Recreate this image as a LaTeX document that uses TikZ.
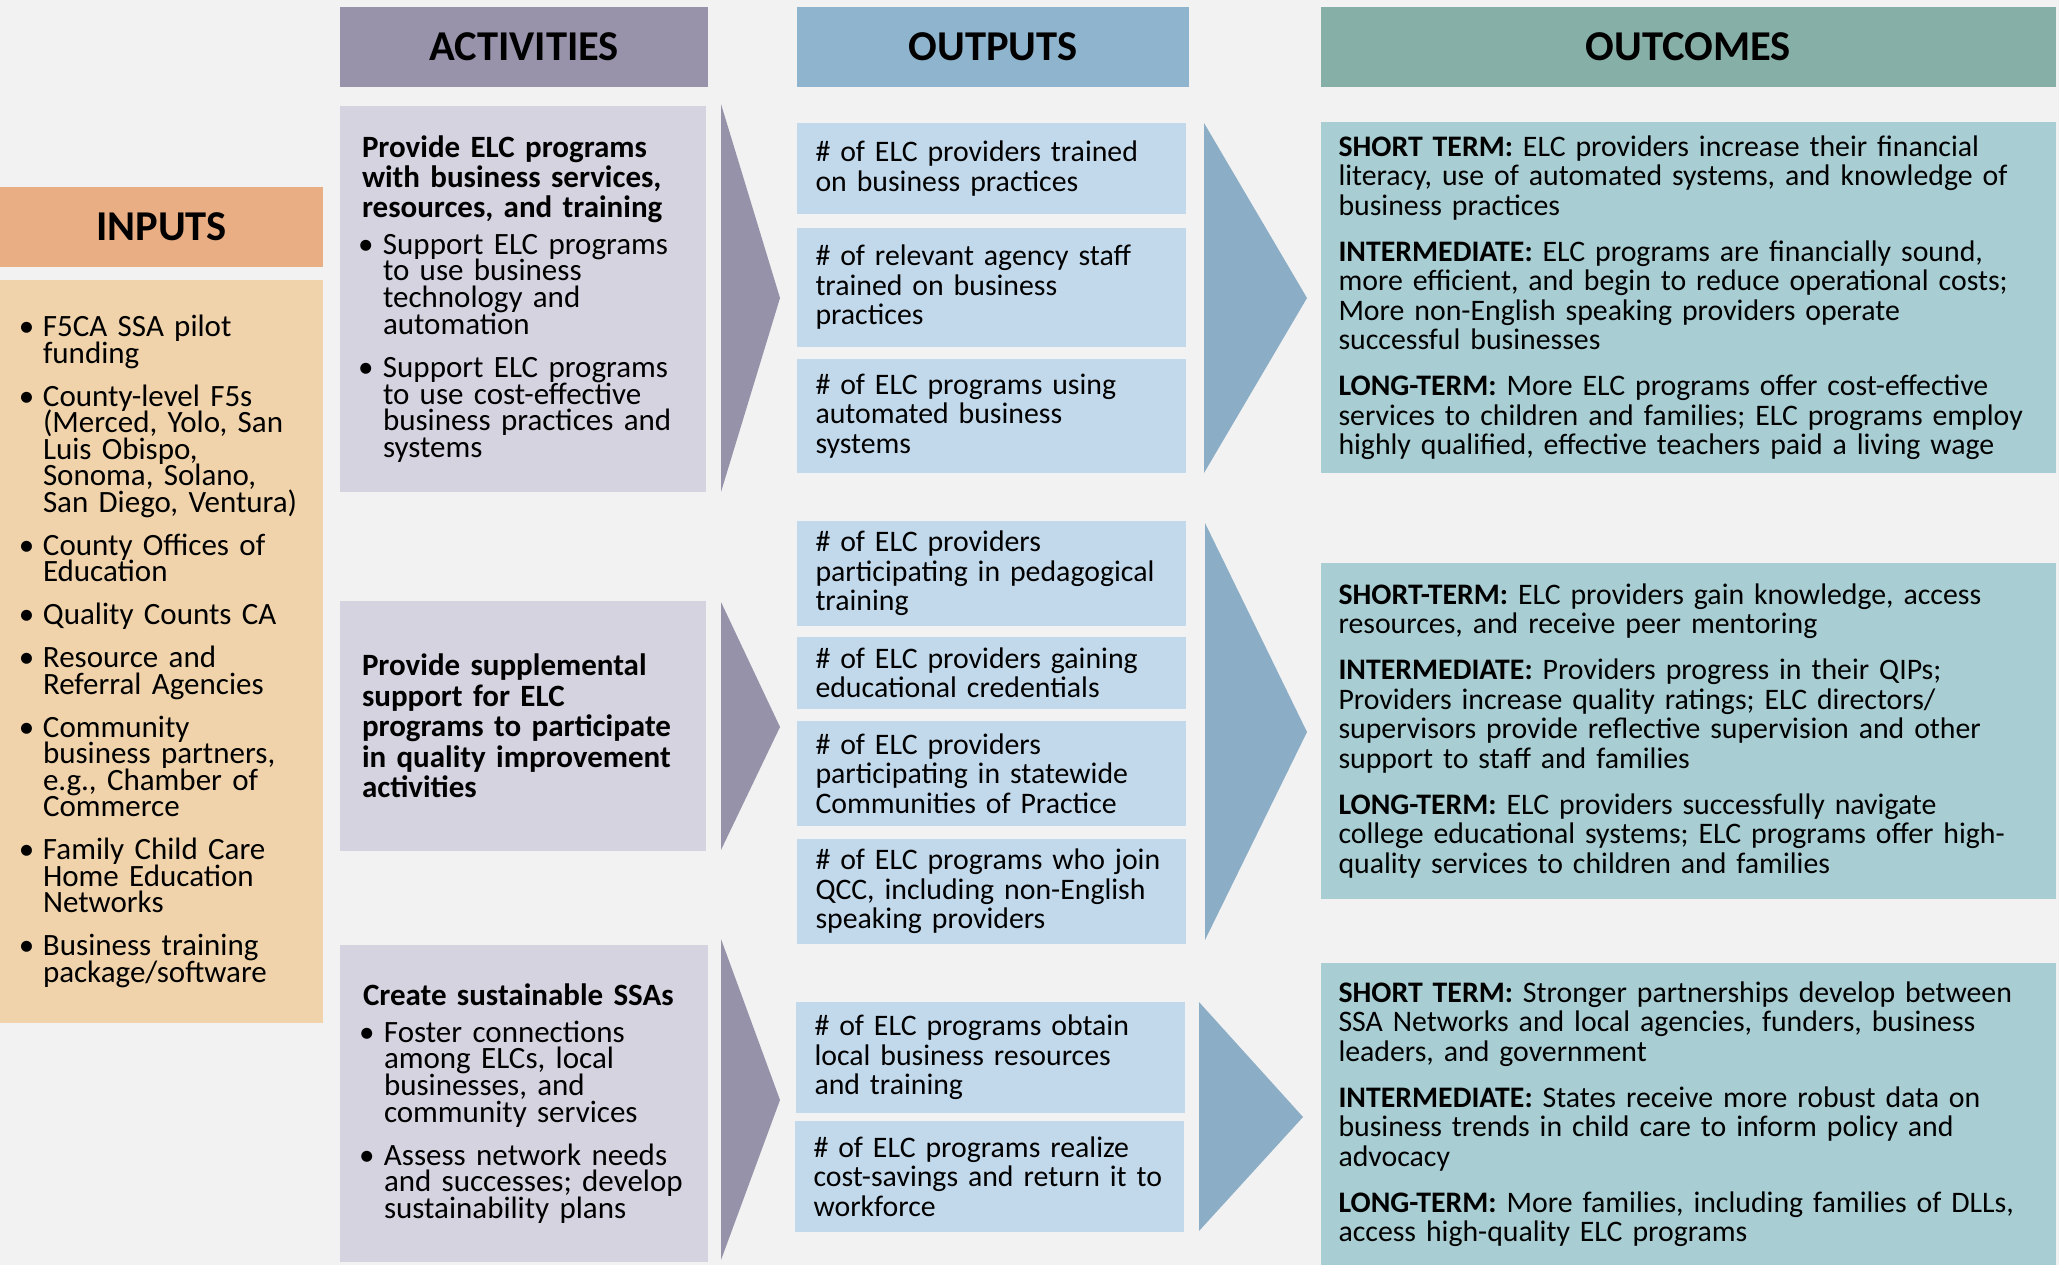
\documentclass[tikz,border=0pt]{standalone}
\usepackage{fontspec}
\setmainfont{Carlito}
\usepackage{tikz}

\definecolor{bgcol}{HTML}{F2F2F2}
\definecolor{inhead}{HTML}{E9AE83}
\definecolor{inbody}{HTML}{F0D3AA}
\definecolor{acthead}{HTML}{9893AA}
\definecolor{actbody}{HTML}{D5D3E0}
\definecolor{actarr}{HTML}{9692A9}
\definecolor{outhead}{HTML}{8FB4CD}
\definecolor{outbody}{HTML}{C2D9EB}
\definecolor{outarr}{HTML}{8BADC5}
\definecolor{ochead}{HTML}{86AFA7}
\definecolor{ocbody}{HTML}{A8CDD2}

\newcommand{\bitem}[2][-3pt]{{\let\\\newline\hangindent=21pt\hangafter=1\noindent\hbox to 21pt{\hspace*{#1}\textbullet\hfil}#2\par}}
\newcommand{\acttitle}[1]{{\bfseries\fontsize{31}{30}\selectfont#1\par}\vspace{-6pt}}

\begin{document}
\hyphenpenalty=10000
\exhyphenpenalty=10000
\begin{tikzpicture}[x=1pt, y=-1pt,
  head/.style={rectangle, inner sep=0pt, outer sep=0pt, minimum height=80pt, font=\bfseries\fontsize{42.5}{42.5}\selectfont},
  card/.style={rectangle, inner sep=0pt, outer sep=0pt, align=left},
  inputcard/.style={card, fill=inbody, minimum width=323pt, minimum height=743pt, text width=279pt, font=\fontsize{31}{26.5}\selectfont, execute at begin node={\setlength{\parskip}{16.5pt}\lineskiplimit=-50pt}},
  actcard/.style={card, fill=actbody, minimum width=366pt, text width=322pt, font=\fontsize{31}{26.7}\selectfont, execute at begin node={\setlength{\parskip}{16.3pt}\lineskiplimit=-50pt}},
  outcard/.style={card, fill=outbody, minimum width=389pt, text width=352pt, font=\fontsize{29.8}{29.5}\selectfont},
  occard/.style={card, fill=ocbody, minimum width=735pt, text width=700pt, font=\fontsize{29.8}{29.5}\selectfont, execute at begin node={\setlength{\parskip}{16.5pt}}},
  actarrow/.style={fill=actarr},
  outarrow/.style={fill=outarr}]
\useasboundingbox (0,0) rectangle (2059,1265);
\fill[bgcol] (0,0) rectangle (2059,1265);

\node[head, fill=inhead, minimum width=323pt] (hin) at (161.5,227) {INPUTS};
\node[head, fill=acthead, minimum width=368pt] (hact) at (524,47) {ACTIVITIES};
\node[head, fill=outhead, minimum width=392pt] (hout) at (993,47) {OUTPUTS};
\node[head, fill=ochead, minimum width=735pt] (hoc) at (1688.5,47) {OUTCOMES};

\node[inputcard] (inp) at (161.5,651.5) {%
  \bitem{F5CA SSA pilot\\funding}%
  \bitem{County-level F5s\\(Merced, Yolo, San\\Luis Obispo,\\Sonoma, Solano,\\San Diego, Ventura)}%
  \bitem{County Offices of\\Education}%
  \bitem{Quality Counts CA}%
  \bitem{Resource and\\Referral Agencies}%
  \bitem{Community\\business partners,\\e.g., Chamber of\\Commerce}%
  \bitem{Family Child Care\\Home Education\\Networks}%
  \bitem{Business training\\package/software}};

\node[actcard, minimum height=386pt] (act1) at (523,299) {%
  \acttitle{Provide ELC programs\\with business services,\\resources, and training}%
  \bitem[-4pt]{Support ELC programs\\to use business\\technology and\\automation}%
  \bitem[-4pt]{Support ELC programs\\to use cost-effective\\business practices and\\systems}};
\node[actcard, minimum height=250pt, font=\bfseries\fontsize{31}{30.5}\selectfont] (act2) at (523,726) {Provide supplemental\\support for ELC\\programs to participate\\in quality improvement\\activities};
\node[actcard, minimum width=368pt, minimum height=317pt] (act3) at (524,1103.5) {%
  \acttitle{Create sustainable SSAs}%
  \bitem[-4pt]{Foster connections\\among ELCs, local\\businesses, and\\community services}%
  \bitem[-4pt]{Assess network needs\\and successes; develop\\sustainability plans}};

\fill[actarrow] (721,104) -- (780,298) -- (721,492) -- cycle;
\fill[actarrow] (721,602) -- (780,727) -- (721,850) -- cycle;
\fill[actarrow] (721,939) -- (780,1100) -- (721,1260) -- cycle;

\node[outcard, minimum height=91pt] (out1) at (991.5,168.5) {\# of ELC providers trained\\on business practices};
\node[outcard, minimum height=119pt] (out2) at (991.5,287.5) {\# of relevant agency staff\\trained on business\\practices};
\node[outcard, minimum height=114pt] (out3) at (991.5,416) {\# of ELC programs using\\automated business\\systems};
\node[outcard, minimum height=105pt] (out4) at (991.5,573.5) {\# of ELC providers\\participating in pedagogical\\training};
\node[outcard, minimum height=72pt] (out5) at (991.5,673) {\# of ELC providers gaining\\educational credentials};
\node[outcard, minimum height=105pt] (out6) at (991.5,773.5) {\# of ELC providers\\participating in statewide\\Communities of Practice};
\node[outcard, minimum height=105pt] (out7) at (991.5,891.5) {\# of ELC programs who join\\QCC, including non-English\\speaking providers};
\node[outcard, minimum height=111pt] (out8) at (990.5,1057.5) {\# of ELC programs obtain\\local business resources\\and training};
\node[outcard, minimum height=111pt] (out9) at (989.5,1176.5) {\# of ELC programs realize\\cost-savings and return it to\\workforce};

\fill[outarrow] (1204,123) -- (1307,298) -- (1204,473) -- cycle;
\fill[outarrow] (1205,523) -- (1307,732) -- (1205,940) -- cycle;
\fill[outarrow] (1199,1002) -- (1303,1117) -- (1199,1231) -- cycle;

\node[occard, minimum height=351pt] (oc1) at (1688.5,297.5) {%
  \textbf{SHORT TERM:} ELC providers increase their financial\\literacy, use of automated systems, and knowledge of\\business practices\par
  \textbf{INTERMEDIATE:} ELC programs are financially sound,\\more efficient, and begin to reduce operational costs;\\More non-English speaking providers operate\\successful businesses\par
  \textbf{LONG-TERM:} More ELC programs offer cost-effective\\services to children and families; ELC programs employ\\highly qualified, effective teachers paid a living wage};
\node[occard, minimum height=336pt] (oc2) at (1688.5,731) {%
  \textbf{SHORT-TERM:} ELC providers gain knowledge, access\\resources, and receive peer mentoring\par
  \textbf{INTERMEDIATE:} Providers progress in their QIPs;\\Providers increase quality ratings; ELC directors/\\supervisors provide reflective supervision and other\\support to staff and families\par
  \textbf{LONG-TERM:} ELC providers successfully navigate\\college educational systems; ELC programs offer high-\\quality services to children and families};
\node[occard, minimum height=302pt] (oc3) at (1688.5,1114) {%
  \textbf{SHORT TERM:} Stronger partnerships develop between\\SSA Networks and local agencies, funders, business\\leaders, and government\par
  \textbf{INTERMEDIATE:} States receive more robust data on\\business trends in child care to inform policy and\\advocacy\par
  \textbf{LONG-TERM:} More families, including families of DLLs,\\access high-quality ELC programs};
\end{tikzpicture}
\end{document}
